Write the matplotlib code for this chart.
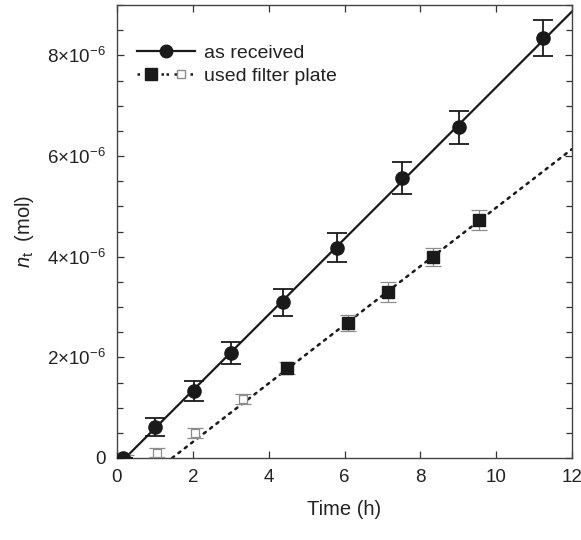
import matplotlib
matplotlib.use("Agg")
import matplotlib.pyplot as plt
import numpy as np
from matplotlib.lines import Line2D
from matplotlib.legend_handler import HandlerTuple
from matplotlib.ticker import MultipleLocator, FuncFormatter

plt.rcParams['font.family'] = ['Liberation Sans', 'DejaVu Sans']
plt.rcParams['mathtext.fontset'] = 'custom'
plt.rcParams['mathtext.rm'] = 'Liberation Sans'
plt.rcParams['mathtext.it'] = 'Liberation Sans:italic'

# as received (circles)
t_recv = [0.15, 1.0, 2.03, 3.0, 4.38, 5.8, 7.52, 9.02, 11.24]
n_recv = [0.0, 0.61e-6, 1.33e-6, 2.08e-6, 3.09e-6, 4.18e-6, 5.56e-6, 6.57e-6, 8.34e-6]
e_recv = [0.0, 0.18e-6, 0.2e-6, 0.22e-6, 0.26e-6, 0.29e-6, 0.32e-6, 0.33e-6, 0.36e-6]

# used filter plate, filled squares
t_used = [4.48, 6.1, 7.15, 8.34, 9.55]
n_used = [1.78e-6, 2.69e-6, 3.30e-6, 4.0e-6, 4.73e-6]
e_used = [0.12e-6, 0.16e-6, 0.2e-6, 0.18e-6, 0.2e-6]

# used filter plate, open squares
t_open = [0.25, 1.05, 2.06, 3.33]
n_open = [0.0, 0.1e-6, 0.5e-6, 1.17e-6]
e_open = [0.05e-6, 0.09e-6, 0.1e-6, 0.1e-6]

ink = '#1a1a1a'
grey = '#8c8c8c'

fig = plt.figure(figsize=(5.81, 5.40), dpi=100)
ax = fig.add_axes([117 / 581, 1 - 458 / 540, 455 / 581, 453 / 540])

# fit lines
p1 = np.polyfit(t_recv, n_recv, 1)
x1 = np.array([t_recv[0], 12.0])
ax.plot(x1, np.polyval(p1, x1), color=ink, lw=1.6, zorder=2)

p2 = np.polyfit(t_used, n_used, 1)
x2 = np.array([-p2[1] / p2[0], 12.0])
ax.plot(x2, np.polyval(p2, x2), color=ink, lw=1.8, linestyle=(0, (1.0, 2.2)),
        dash_capstyle='round', zorder=2)

ax.errorbar(t_open, n_open, yerr=e_open, fmt='s', ms=5.5, mfc='white', mec=grey,
            mew=0.9, ecolor=grey, elinewidth=0.9, capsize=5.5, capthick=0.9, zorder=3)
ax.errorbar(t_used, n_used, yerr=e_used, fmt='s', ms=8, color=ink, ecolor=grey,
            elinewidth=0.9, capsize=6, capthick=0.9, zorder=4)
ax.errorbar(t_recv, n_recv, yerr=e_recv, fmt='o', ms=9.5, color=ink, ecolor=ink,
            elinewidth=1.3, capsize=7, capthick=1.3, zorder=5)

ax.set_xlim(0, 12)
ax.set_ylim(0, 9e-6)
ax.xaxis.set_major_locator(MultipleLocator(2))
ax.yaxis.set_major_locator(MultipleLocator(2e-6))
ax.yaxis.set_minor_locator(MultipleLocator(0.5e-6))


def yfmt(v, pos):
    k = int(round(v / 1e-6))
    if k == 0:
        return '0'
    return r'$%d{\times}10^{-6}$' % k


ax.yaxis.set_major_formatter(FuncFormatter(yfmt))
ax.tick_params(which='both', direction='in', top=True, right=True,
               labelsize=13.5, colors='#333333', labelcolor='#222222', width=0.9)
ax.tick_params(which='major', length=5, pad=8)
ax.tick_params(which='minor', length=4)
for s in ax.spines.values():
    s.set_color('#444444')
    s.set_linewidth(1.0)

ax.set_xlabel('Time (h)', fontsize=14.5, color='#222222', labelpad=10)
ax.set_ylabel(r'$n_{\mathrm{t}}$  (mol)', fontsize=14.5, color='#222222', labelpad=8)

h1 = Line2D([], [], color=ink, lw=1.6, marker='o', ms=9)
h2a = Line2D([], [], color=ink, lw=1.8, linestyle=(0, (1.0, 2.2)), marker='s', ms=8)
h2b = Line2D([], [], color=ink, lw=1.8, linestyle=(0, (1.0, 2.2)), marker='s', ms=5.5,
             mfc='white', mec=grey)
ax.legend([h1, (h2a, h2b)], ['as received', 'used filter plate'],
          handler_map={tuple: HandlerTuple(ndivide=None, pad=0)},
          loc='upper left', bbox_to_anchor=(0.005, 0.952), frameon=False,
          fontsize=14, handlelength=3.0, handletextpad=0.45, labelspacing=0.3,
          labelcolor='#222222')

fig.savefig('out.png', dpi=100)
